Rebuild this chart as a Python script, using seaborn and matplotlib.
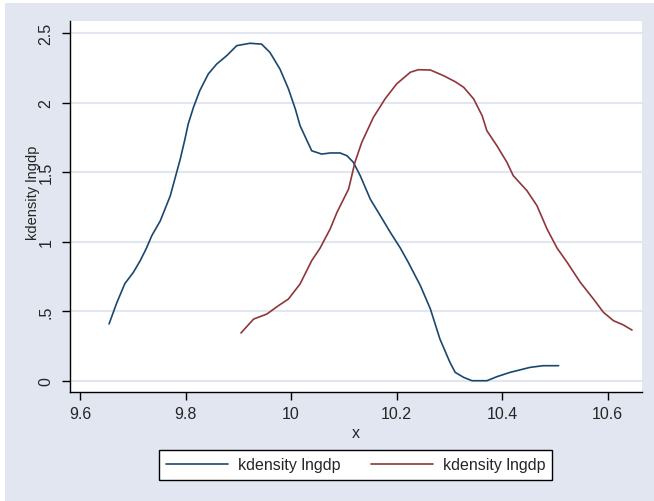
import matplotlib
matplotlib.use("Agg")
import matplotlib.pyplot as plt
from matplotlib.patches import Rectangle
from matplotlib.lines import Line2D
import seaborn as sns
import pandas as pd

# Blue density curve (kdensity lngdp, first group)
blue_x = [9.655, 9.670, 9.685, 9.701, 9.714, 9.726, 9.736, 9.752, 9.771, 9.790,
          9.799, 9.805, 9.815, 9.827, 9.843, 9.859, 9.878, 9.897, 9.922, 9.944,
          9.960, 9.979, 9.995, 10.008, 10.017, 10.039, 10.058, 10.074, 10.093, 10.106,
          10.118, 10.131, 10.150, 10.169, 10.188, 10.207, 10.222, 10.245, 10.264, 10.282,
          10.301, 10.311, 10.327, 10.343, 10.371, 10.390, 10.415, 10.453, 10.478, 10.507]
blue_y = [0.41, 0.565, 0.70, 0.78, 0.864, 0.955, 1.044, 1.15, 1.33, 1.595,
          1.74, 1.846, 1.966, 2.086, 2.205, 2.277, 2.337, 2.409, 2.426, 2.42,
          2.36, 2.24, 2.098, 1.954, 1.834, 1.654, 1.63, 1.638, 1.638, 1.618,
          1.571, 1.475, 1.307, 1.188, 1.068, 0.955, 0.853, 0.685, 0.517, 0.302,
          0.134, 0.062, 0.026, 0.002, 0.002, 0.031, 0.062, 0.098, 0.11, 0.11]

# Red density curve (kdensity lngdp, second group)
red_x = [9.905, 9.929, 9.954, 9.976, 9.995, 10.017, 10.039, 10.055, 10.074, 10.087,
         10.109, 10.121, 10.134, 10.156, 10.178, 10.200, 10.226, 10.241, 10.264, 10.289,
         10.311, 10.327, 10.346, 10.362, 10.371, 10.390, 10.409, 10.421, 10.447, 10.466,
         10.485, 10.504, 10.523, 10.548, 10.573, 10.592, 10.611, 10.630, 10.646]
red_y = [0.345, 0.445, 0.481, 0.541, 0.589, 0.697, 0.864, 0.955, 1.092, 1.212,
         1.379, 1.571, 1.715, 1.894, 2.026, 2.134, 2.218, 2.236, 2.234, 2.193,
         2.150, 2.110, 2.026, 1.906, 1.798, 1.690, 1.571, 1.475, 1.367, 1.259,
         1.092, 0.955, 0.853, 0.709, 0.589, 0.493, 0.433, 0.402, 0.366]

x_ticks = [9.6, 9.8, 10, 10.2, 10.4, 10.6]
x_tick_labels = ["9.6", "9.8", "10", "10.2", "10.4", "10.6"]
y_ticks = [0, 0.5, 1, 1.5, 2, 2.5]
y_tick_labels = ["0", ".5", "1", "1.5", "2", "2.5"]
legend_labels = ["kdensity lngdp", "kdensity lngdp"]

BLUE = "#1a476f"
RED = "#90353b"
BG = "#e1e6f0"
GRID = "#e1e6f0"
FS = 11.5

sns.set_theme(style="white")
plt.rcParams["font.family"] = ["Liberation Sans", "DejaVu Sans"]

W, H = 654, 502
fig = plt.figure(figsize=(W / 100, H / 100), dpi=100)
fig.patch.set_facecolor("white")
fig.patches.append(Rectangle((5 / W, 0), 1 - 5 / W, 1 - 4 / H, transform=fig.transFigure,
                             facecolor=BG, edgecolor="none", zorder=-10))

left, right, top, bottom = 70, 642, 22, 393
ax = fig.add_axes([left / W, (H - bottom) / H, (right - left) / W, (bottom - top) / H])
ax.set_facecolor("white")

df_b = pd.DataFrame({"x": blue_x, "y": blue_y})
df_r = pd.DataFrame({"x": red_x, "y": red_y})
sns.lineplot(data=df_b, x="x", y="y", ax=ax, color=BLUE, lw=1.2, sort=False, estimator=None)
sns.lineplot(data=df_r, x="x", y="y", ax=ax, color=RED, lw=1.2, sort=False, estimator=None)

ax.set_xlim(9.581, 10.665)
ax.set_ylim(-0.079, 2.586)
for yv in y_ticks:
    ax.axhline(yv, color=GRID, lw=1.5, zorder=0)

ax.set_xticks(x_ticks)
ax.set_xticklabels(x_tick_labels, fontsize=FS)
ax.set_yticks(y_ticks)
ax.set_yticklabels(y_tick_labels, fontsize=FS, rotation=90, va="center")
ax.tick_params(axis="x", direction="out", length=6, width=1, color="black",
               bottom=True, pad=4)
ax.tick_params(axis="y", direction="out", length=6, width=1, color="black",
               left=True, pad=6)
for s in ["top", "right"]:
    ax.spines[s].set_visible(False)
for s in ["left", "bottom"]:
    ax.spines[s].set_color("black")
    ax.spines[s].set_linewidth(1)

ax.set_xlabel("x", fontsize=FS, labelpad=3)
ax.set_ylabel("kdensity lngdp", fontsize=10.5, va="center")
ax.yaxis.set_label_coords((32.5 - left) / (right - left), (bottom - 193) / (bottom - top))

handles = [Line2D([0], [0], color=BLUE, lw=1.2), Line2D([0], [0], color=RED, lw=1.2)]
leg = fig.legend(handles, legend_labels, loc="center", bbox_to_anchor=(355.5 / W, (H - 466) / H),
                 ncol=2, fontsize=FS, frameon=True, fancybox=False, handlelength=3.9,
                 columnspacing=1.9, handletextpad=0.6, borderpad=0.45, borderaxespad=0)
leg.get_frame().set_edgecolor("black")
leg.get_frame().set_linewidth(1)
leg.get_frame().set_facecolor("white")
leg.get_frame().set_alpha(1)

fig.savefig("out.png", dpi=100)
